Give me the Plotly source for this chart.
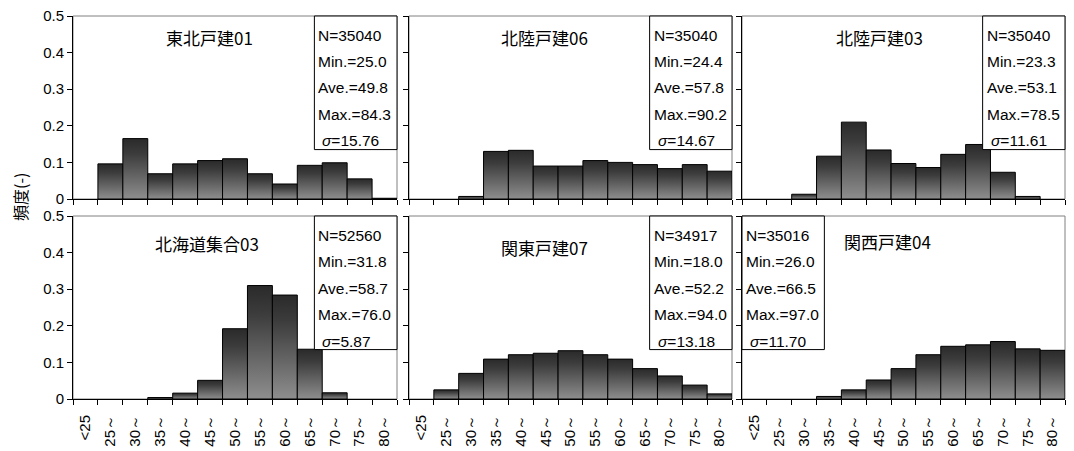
import plotly.graph_objects as go

# ---------------- data ----------------
categories = ["<25", "25～", "30～", "35～", "40～", "45～", "50～",
              "55～", "60～", "65～", "70～", "75～", "80～"]

panel_titles = ["東北戸建01", "北陸戸建06", "北陸戸建03",
                "北海道集合03", "関東戸建07", "関西戸建04"]

freq_tohoku01   = [0, 0.096, 0.165, 0.069, 0.096, 0.105, 0.110, 0.069, 0.041, 0.092, 0.099, 0.055, 0.002]
freq_hokuriku06 = [0, 0, 0.007, 0.130, 0.133, 0.090, 0.090, 0.105, 0.100, 0.094, 0.083, 0.094, 0.076]
freq_hokuriku03 = [0, 0, 0.013, 0.117, 0.210, 0.134, 0.097, 0.086, 0.122, 0.149, 0.073, 0.007, 0]
freq_hokkaido03 = [0, 0, 0, 0.004, 0.016, 0.051, 0.192, 0.310, 0.284, 0.136, 0.017, 0, 0]
freq_kanto07    = [0, 0.025, 0.070, 0.109, 0.121, 0.125, 0.132, 0.121, 0.109, 0.083, 0.063, 0.038, 0.014]
freq_kansai04   = [0, 0, 0, 0.007, 0.025, 0.052, 0.083, 0.121, 0.144, 0.148, 0.157, 0.137, 0.133]

stat_n     = ["35040", "35040", "35040", "52560", "34917", "35016"]
stat_min   = ["25.0", "24.4", "23.3", "31.8", "18.0", "26.0"]
stat_ave   = ["49.8", "57.8", "53.1", "58.7", "52.2", "66.5"]
stat_max   = ["84.3", "90.2", "78.5", "76.0", "94.0", "97.0"]
stat_sigma = ["15.76", "14.67", "11.61", "5.87", "13.18", "11.70"]

y_tick_vals = [0, 0.1, 0.2, 0.3, 0.4, 0.5]
y_tick_text = ["0", "0.1", "0.2", "0.3", "0.4", "0.5"]
y_title = "頻度(-)"

series = [freq_tohoku01, freq_hokuriku06, freq_hokuriku03,
          freq_hokkaido03, freq_kanto07, freq_kansai04]

# ---------------- layout geometry (pixels) ----------------
W, H = 1074, 451
col_px = [(73, 397), (409, 732), (742, 1065)]
row_px = [(16, 199), (216, 399)]
title_pos = [(0.42, 0.88), (0.42, 0.88), (0.427, 0.88),
             (0.414, 0.852), (0.42, 0.83), (0.449, 0.858)]
box_side = ["right", "right", "right", "right", "right", "left"]
BOX_W = 0.255
BOX_H = 0.73

CJK = "Noto Sans CJK JP"
LAT = "Liberation Sans"
NCAT = len(categories)
XR = [-0.5, NCAT - 0.5]

fig = go.Figure()
layout_axes = {}
shapes = []
annotations = []

for p in range(6):
    r, c = divmod(p, 3)
    idx = "" if p == 0 else str(p + 1)
    xa, ya = "x" + idx, "y" + idx
    x0, x1 = col_px[c]
    yt, yb = row_px[r]
    xdom = [x0 / W, x1 / W]
    ydom = [1 - yb / H, 1 - yt / H]

    vals = series[p]
    for i, v in enumerate(vals):
        if v <= 0:
            continue
        fig.add_trace(go.Scatter(
            x=[i - 0.5, i - 0.5, i + 0.5, i + 0.5, i - 0.5],
            y=[0, v, v, 0, 0],
            mode="lines", fill="toself",
            fillgradient=dict(type="vertical",
                              colorscale=[[0, "#8e8e8e"], [0.75, "#3c3c3c"], [1, "#2a2a2a"]]),
            line=dict(color="#000000", width=1),
            xaxis=xa, yaxis=ya, showlegend=False,
            hovertemplate=f"{categories[i]}: {v}<extra>{panel_titles[p]}</extra>",
        ))

    # main x axis: tick marks on category boundaries
    layout_axes["xaxis" + idx] = dict(
        domain=xdom, anchor=ya, range=XR, fixedrange=True, automargin=False,
        showline=True, linecolor="#000000", linewidth=1,
        showgrid=False, zeroline=False,
        tickmode="linear", tick0=-0.5, dtick=1,
        ticks="outside", ticklen=5, tickcolor="#000000", tickwidth=1,
        showticklabels=False,
    )
    layout_axes["yaxis" + idx] = dict(
        domain=ydom, anchor=xa, range=[0, 0.5], fixedrange=True, automargin=False,
        showline=True, linecolor="#000000", linewidth=1,
        showgrid=False, zeroline=False,
        tickmode="array", tickvals=y_tick_vals, ticktext=y_tick_text,
        ticks="outside", ticklen=5, tickcolor="#000000",
        showticklabels=(c == 0),
        tickfont=dict(family=LAT, size=15, color="#000000"),
    )

    # overlay axis carrying the category labels (bottom row)
    if r == 1:
        lid = str(p + 4)
        layout_axes["xaxis" + lid] = dict(
            overlaying=xa, anchor=ya, side="bottom", range=XR, fixedrange=True,
            automargin=False, showline=False, showgrid=False, zeroline=False,
            tickmode="array", tickvals=list(range(NCAT)), ticktext=categories,
            ticks="", tickangle=-90, ticklabelstandoff=12,
            tickfont=dict(family=LAT, size=15, color="#000000"),
        )
        fig.add_trace(go.Scatter(x=[0], y=[0], mode="markers", opacity=0,
                                 xaxis="x" + lid, yaxis=ya, showlegend=False,
                                 hoverinfo="skip"))

    xd, yd = xa + " domain", ya + " domain"
    shapes.append(dict(type="rect", xref=xd, yref=yd, x0=0, x1=1, y0=0, y1=1,
                       line=dict(color="#808080", width=1), layer="below"))
    if box_side[p] == "right":
        bx0, bx1 = 1 - BOX_W, 1
    else:
        bx0, bx1 = 0, BOX_W
    shapes.append(dict(type="rect", xref=xd, yref=yd, x0=bx0, x1=bx1, y0=1 - BOX_H, y1=1,
                       line=dict(color="#000000", width=1), fillcolor="#ffffff", layer="above"))
    lines = [f"N={stat_n[p]}", f"Min.={stat_min[p]}", f"Ave.={stat_ave[p]}",
             f"Max.={stat_max[p]}", f"<i>σ</i>={stat_sigma[p]}"]
    ph = yb - yt
    for k, txt in enumerate(lines):
        dy = 19 + 26.5 * k
        annotations.append(dict(
            xref=xd, yref=yd, x=bx0, y=1 - dy / ph, xanchor="left", yanchor="middle",
            xshift=2 if k < 4 else 6, text=txt, showarrow=False,
            font=dict(family=LAT, size=15.5, color="#000000")))
    tx, ty = title_pos[p]
    annotations.append(dict(xref=xd, yref=yd, x=tx, y=ty, xanchor="center", yanchor="middle",
                            text=panel_titles[p], showarrow=False,
                            font=dict(family=CJK, size=17, color="#000000")))

annotations.append(dict(xref="paper", yref="paper", x=20 / W, y=1 - 197 / H,
                        xanchor="center", yanchor="middle", textangle=-90,
                        text=y_title, showarrow=False,
                        font=dict(family=CJK, size=16, color="#000000")))

fig.update_layout(
    width=W, height=H, margin=dict(l=0, r=0, t=0, b=0),
    paper_bgcolor="#ffffff", plot_bgcolor="#ffffff",
    shapes=shapes, annotations=annotations, showlegend=False,
    **layout_axes,
)

fig.write_html("out.html", config={"displayModeBar": False},
               post_script="document.body.style.margin='0';document.body.style.overflow='hidden';")
